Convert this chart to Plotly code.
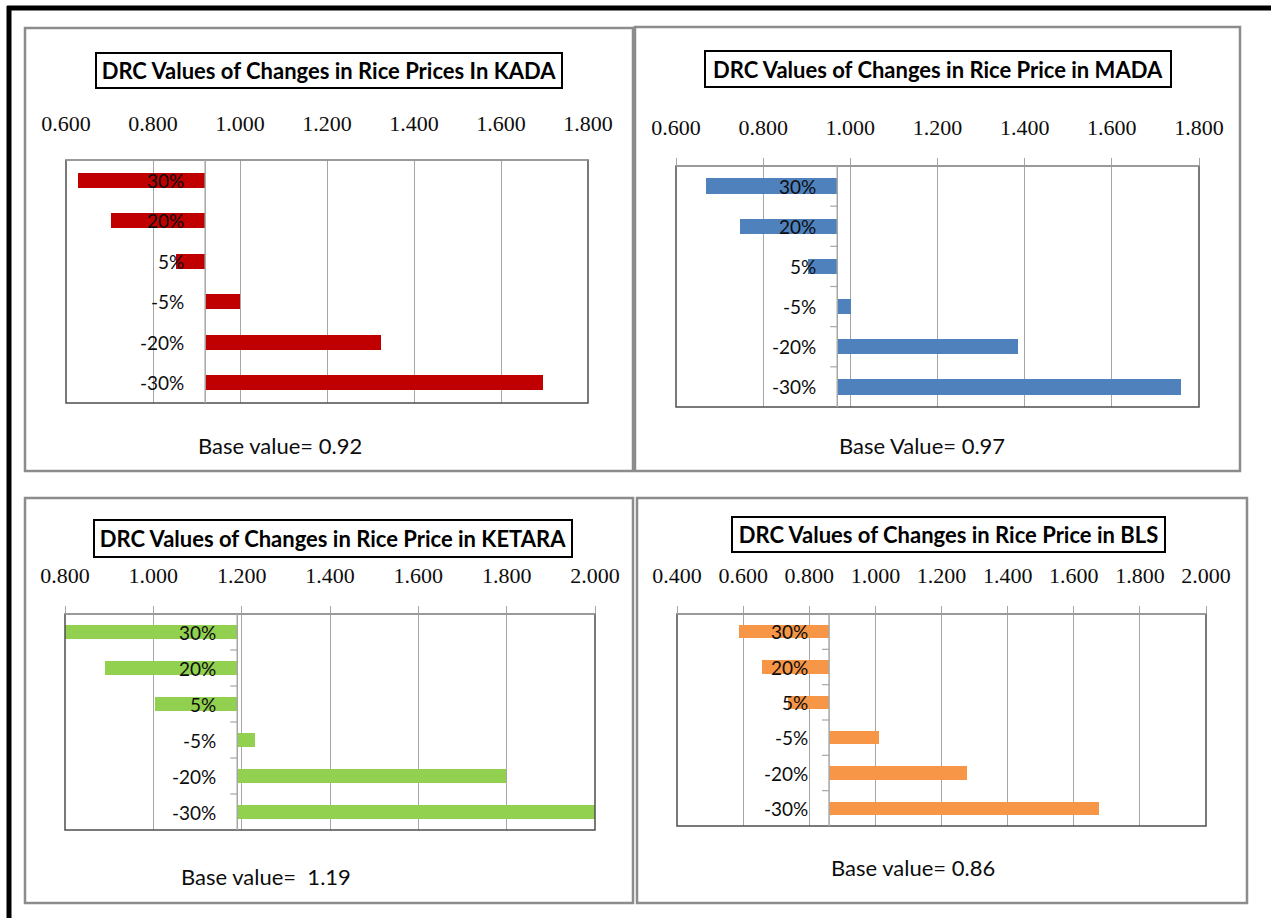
import plotly.graph_objects as go

W, H = 1271, 918

categories = ["30%", "20%", "5%", "-5%", "-20%", "-30%"]

titles = [
    "DRC Values of Changes in Rice Prices In KADA",
    "DRC Values of Changes in Rice Price in MADA",
    "DRC Values of Changes in Rice Price in KETARA",
    "DRC Values of Changes in Rice Price in BLS",
]
base_texts = ["Base value= 0.92", "Base Value= 0.97", "Base value=  1.19", "Base value= 0.86"]

kada_base = 0.92
mada_base = 0.97
ketara_base = 1.19
bls_base = 0.86

kada_values = [0.628, 0.703, 0.853, 1.001, 1.323, 1.697]
mada_values = [0.669, 0.746, 0.902, 1.002, 1.384, 1.758]
ketara_values = [0.800, 0.891, 1.004, 1.230, 1.798, 2.000]
bls_values = [0.586, 0.658, 0.736, 1.012, 1.276, 1.676]

x_ranges = [[0.6, 1.8], [0.6, 1.8], [0.8, 2.0], [0.4, 2.0]]
colors = ["#C00000", "#4F81BD", "#92D050", "#F79646"]

bases = [kada_base, mada_base, ketara_base, bls_base]
series = [kada_values, mada_values, ketara_values, bls_values]

# layout (pixel boxes)
panel_boxes = [(25, 28, 633, 471), (635, 27, 1240, 471), (25, 498, 633, 903), (637, 498, 1247, 903)]
plot_boxes = [(66, 160, 588, 403), (676, 166, 1199, 407), (65, 614, 595, 830), (677, 614, 1206, 826)]
title_boxes = [(95, 52, 563, 89), (704, 50, 1172, 88), (93, 519, 573, 558), (731, 516, 1166, 553)]
base_text_pos = [(280, 445), (922, 445), (266, 876), (913, 867)]
show_ticks = [False, True, True, True]


def px(x):
    return x / W


def py(y):
    return 1 - y / H


fig = go.Figure()
shapes = []
annotations = []
TXT = "#0d0d0d"

for i in range(4):
    n = "" if i == 0 else str(i + 1)
    xa, ya = "x" + n, "y" + n
    base = bases[i]
    vals = series[i]
    fig.add_trace(go.Bar(
        y=categories, x=[v - base for v in vals], base=base,
        orientation="h", width=0.38, marker=dict(color=colors[i], line=dict(width=0)),
        xaxis=xa, yaxis=ya, showlegend=False, hoverinfo="skip",
    ))
    x0, y0, x1, y1 = plot_boxes[i]
    fig.layout["xaxis" + n] = dict(
        domain=[px(x0), px(x1)], anchor=ya, side="top", range=x_ranges[i],
        tick0=0, dtick=0.2, tickformat=".3f", showgrid=True, gridcolor="#A6A6A6", gridwidth=1,
        zeroline=False, showline=False, automargin=False,
        ticks="outside" if show_ticks[i] else "", ticklen=7, tickcolor="#A6A6A6",
        tickfont=dict(family="Liberation Serif", size=22, color=TXT),
        ticklabelstandoff=14 if show_ticks[i] else 24,
        fixedrange=True,
    )
    fig.layout["yaxis" + n] = dict(
        domain=[py(y1), py(y0)], anchor=xa, type="category",
        categoryorder="array", categoryarray=categories, autorange="reversed",
        showticklabels=False, showgrid=False, zeroline=False, showline=False, ticks="",
        automargin=False, fixedrange=True,
    )
    # plot-area border
    shapes.append(dict(type="rect", xref=xa + " domain", yref=ya + " domain", x0=0, x1=1, y0=0, y1=1,
                       line=dict(color="#4D4D4D", width=1.5), layer="above"))
    shapes.append(dict(type="line", xref=xa + " domain", yref=ya + " domain", x0=0, x1=1, y0=1, y1=1,
                       line=dict(color="#A6A6A6", width=1.5), layer="above"))
    # vertical category axis at base value
    shapes.append(dict(type="line", xref=xa, yref=ya + " domain", x0=base, x1=base, y0=0, y1=1,
                       line=dict(color="#A6A6A6", width=1.5), layer="above"))
    if show_ticks[i]:
        for k in range(len(categories) - 1):
            shapes.append(dict(type="line", xref=xa, yref=ya, xsizemode="pixel", xanchor=base,
                               x0=-7, x1=0, y0=k + 0.5, y1=k + 0.5,
                               line=dict(color="#A6A6A6", width=1.2), layer="above"))
    # category labels next to the base axis
    for c in categories:
        annotations.append(dict(x=base, y=c, xref=xa, yref=ya, text=c, showarrow=False,
                                xanchor="right", yanchor="middle", xshift=-19,
                                font=dict(family="Lato", size=19, color=TXT)))
    # panel frame
    a, b, c2, d = panel_boxes[i]
    shapes.append(dict(type="rect", xref="paper", yref="paper", x0=px(a), x1=px(c2), y0=py(d), y1=py(b),
                       line=dict(color="#8C8C8C", width=2.5), layer="below"))
    # title box
    a, b, c2, d = title_boxes[i]
    annotations.append(dict(x=px((a + c2) / 2), y=py((b + d) / 2), xref="paper", yref="paper",
                            text=titles[i], showarrow=False, xanchor="center", yanchor="middle",
                            width=c2 - a - 4, height=d - b - 4, borderpad=0,
                            bordercolor="#000000", borderwidth=2,
                            font=dict(family="Lato", size=22, color="#000000", weight="bold")))
    bx, by = base_text_pos[i]
    annotations.append(dict(x=px(bx), y=py(by), xref="paper", yref="paper", text=base_texts[i],
                            showarrow=False, xanchor="center", yanchor="middle",
                            font=dict(family="Lato", size=22, color=TXT)))

# outer black frame (top and left)
shapes.append(dict(type="line", xref="paper", yref="paper", x0=px(7), x1=1, y0=py(8), y1=py(8),
                   line=dict(color="#000000", width=5)))
shapes.append(dict(type="line", xref="paper", yref="paper", x0=px(9), x1=px(9), y0=py(6), y1=0,
                   line=dict(color="#000000", width=5)))

fig.update_layout(
    width=W, height=H, margin=dict(l=0, r=0, t=0, b=0, pad=0, autoexpand=False),
    paper_bgcolor="white", plot_bgcolor="white",
    shapes=shapes, annotations=annotations, bargap=0,
    font=dict(family="Lato", color=TXT),
)

fig.write_html("out.html", config={"displayModeBar": False})
